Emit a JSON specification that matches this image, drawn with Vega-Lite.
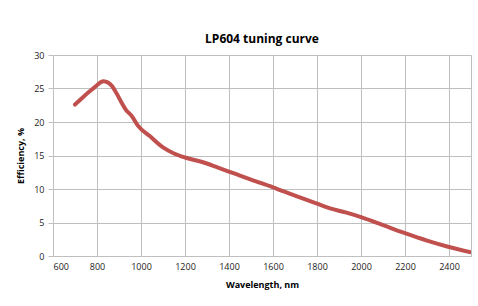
{
  "$schema": "https://vega.github.io/schema/vega-lite/v6.json",
  "autosize": "none",
  "padding": {"left": 53, "top": 55, "right": 7, "bottom": 50},
  "width": 418,
  "height": 201,
  "background": "white",
  "title": {"text": "LP604 tuning curve", "font": "Open Sans", "fontSize": 12, "fontWeight": "bold", "color": "#000000", "offset": 5, "anchor": "middle"},
  "config": {"view": {"stroke": null}},
  "data": {"values": [
    {"wl": 700, "eff": 22.6},
    {"wl": 730, "eff": 23.5},
    {"wl": 760, "eff": 24.4},
    {"wl": 790, "eff": 25.2},
    {"wl": 815, "eff": 25.9},
    {"wl": 830, "eff": 26.1},
    {"wl": 850, "eff": 25.9},
    {"wl": 870, "eff": 25.3},
    {"wl": 890, "eff": 24.2},
    {"wl": 910, "eff": 23.0},
    {"wl": 930, "eff": 21.9},
    {"wl": 960, "eff": 20.8},
    {"wl": 985, "eff": 19.5},
    {"wl": 1040, "eff": 17.9},
    {"wl": 1100, "eff": 16.2},
    {"wl": 1150, "eff": 15.3},
    {"wl": 1200, "eff": 14.7},
    {"wl": 1270, "eff": 14.1},
    {"wl": 1350, "eff": 13.2},
    {"wl": 1450, "eff": 12.0},
    {"wl": 1500, "eff": 11.4},
    {"wl": 1600, "eff": 10.25},
    {"wl": 1700, "eff": 9.0},
    {"wl": 1800, "eff": 7.8},
    {"wl": 1860, "eff": 7.1},
    {"wl": 1930, "eff": 6.5},
    {"wl": 2000, "eff": 5.8},
    {"wl": 2100, "eff": 4.6},
    {"wl": 2200, "eff": 3.4},
    {"wl": 2300, "eff": 2.3},
    {"wl": 2400, "eff": 1.35},
    {"wl": 2500, "eff": 0.55}
  ]},
  "mark": {"type": "line", "color": "#c0504d", "strokeWidth": 4, "interpolate": "monotone", "strokeCap": "round", "clip": true},
  "encoding": {
    "x": {"field": "wl", "type": "quantitative", "scale": {"domain": [600, 2500], "nice": false},
      "axis": {"title": "Wavelength, nm", "values": [600, 800, 1000, 1200, 1400, 1600, 1800, 2000, 2200, 2400, 2500], "labelExpr": "datum.value == 2500 ? '' : datum.label", "format": "d", "gridColor": "#bfbfbf", "gridWidth": 1, "domainColor": "#bfbfbf", "ticks": false, "labelPadding": 6, "labelFont": "Open Sans", "labelFontSize": 9, "labelColor": "#222", "titleFont": "Open Sans", "titleFontSize": 9, "titleFontWeight": "bold", "titleColor": "#000", "titlePadding": 9}},
    "y": {"field": "eff", "type": "quantitative", "scale": {"domain": [0, 30], "nice": false},
      "axis": {"title": "Efficiency, %", "values": [0, 5, 10, 15, 20, 25, 30], "gridColor": "#bfbfbf", "gridWidth": 1, "domainColor": "#bfbfbf", "tickColor": "#bfbfbf", "tickSize": 5, "labelPadding": 4, "labelFont": "Open Sans", "labelFontSize": 9, "labelColor": "#222", "titleFont": "Open Sans", "titleFontSize": 9, "titleFontWeight": "bold", "titleColor": "#000", "titlePadding": 8}}
  }
}
